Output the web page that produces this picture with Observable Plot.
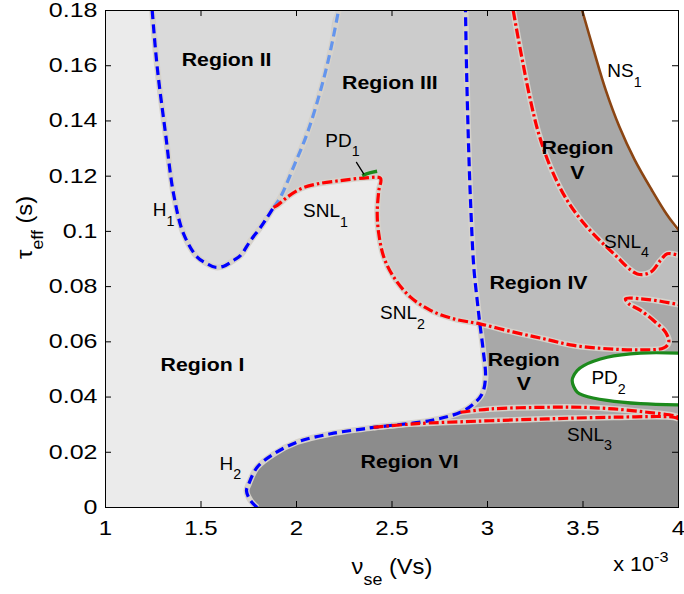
<!DOCTYPE html>
<html><head><meta charset="utf-8">
<script src="https://cdn.jsdelivr.net/npm/d3@7"></script>
<script src="https://cdn.jsdelivr.net/npm/@observablehq/plot@0.6"></script>
<style>html,body{margin:0;padding:0;background:#fff;overflow:hidden;}</style>
</head><body><div id="chart"></div>
<script>
// ---- data (x in units of 1e-3 Vs, y = tau_eff in s) ----
const xTicks = [1, 1.5, 2, 2.5, 3, 3.5, 4];
const yTicks = [0, 0.02, 0.04, 0.06, 0.08, 0.1, 0.12, 0.14, 0.16, 0.18];

const H1_left = [[1.2445,0.18],[1.2707,0.1595],[1.3141,0.1355],[1.356,0.1137],[1.4084,0.0992],[1.4801,0.0907],[1.532,0.0883],[1.5759,0.0870],[1.619,0.0874],[1.6702,0.0895],[1.707,0.0913],[1.7592,0.0967],[1.812,0.1015],[1.8466,0.1051],[1.8796,0.1087]];
const H1_right = [[1.8796,0.1087],[1.9162,0.1124],[1.9843,0.1233],[2.056,0.1355],[2.1257,0.151],[2.178,0.1655],[2.2199,0.18]];
const H2_a = [[1.7942,0],[1.7592,0.0025],[1.7382,0.006],[1.7503,0.0086],[1.7942,0.0146],[1.8812,0.0194],[2.0037,0.0237],[2.178,0.0267],[2.3524,0.0285],[2.4031,0.029]];
const H2_b = [[2.4031,0.029],[2.4921,0.0297],[2.7016,0.0315],[2.8586,0.0345]];
const H2_c = [[2.8586,0.0345],[2.9283,0.0376],[2.9723,0.0412],[2.9895,0.0472],[2.9775,0.0569],[2.96,0.0665]];
const H2_d = [[2.96,0.0665],[2.9461,0.075],[2.9283,0.087],[2.911,0.1112],[2.899,0.1353],[2.8901,0.1595],[2.8848,0.18]];
const SNL1 = [[1.8796,0.1087],[1.899,0.1094],[1.9513,0.1124],[2.0209,0.1154],[2.1084,0.1172],[2.2304,0.1184],[2.3524,0.1193],[2.4398,0.1192]];
const SNL2a = [[2.4398,0.1192],[2.4309,0.1148],[2.4225,0.1064],[2.4309,0.0991],[2.4571,0.0907],[2.5094,0.0834],[2.5969,0.0762],[2.7016,0.0714],[2.8236,0.0683],[2.96,0.0665]];
const SNL2b = [[2.96,0.0665],[3.1377,0.0635],[3.2948,0.0611],[3.4518,0.0587],[3.6267,0.0575],[3.801,0.0571],[3.923,0.0578],[3.9492,0.0599],[3.9319,0.0635],[3.8796,0.0671],[3.801,0.0714],[3.7398,0.0738],[3.7225,0.0756],[3.801,0.0756],[3.9058,0.0747],[4,0.0735]];
const SNL3_upper = [[2.8586,0.0345],[3.0157,0.0357],[3.3126,0.0363],[3.4869,0.0363],[3.6613,0.0357],[3.8361,0.0345],[3.9754,0.0333],[4,0.0327]];
const SNL3_lower = [[2.4031,0.029],[2.6141,0.0303],[2.9634,0.0313],[3.3126,0.0321],[3.6613,0.0327],[3.9754,0.0327],[4,0.0321]];
const SNL4 = [[3.1346,0.18],[3.1728,0.1655],[3.2251,0.1474],[3.2686,0.1353],[3.3298,0.1233],[3.4173,0.1112],[3.522,0.1015],[3.6613,0.0919],[3.7838,0.0846],[3.8534,0.0852],[3.9058,0.0895],[3.9408,0.0919],[4,0.0913]];
const NS1 = [[3.4958,0.18],[3.5565,0.1655],[3.62,0.151],[3.69,0.138],[3.77,0.126],[3.86,0.115],[3.94,0.106],[4,0.1005]];
const PD1 = [[2.344,0.1202],[2.383,0.1212],[2.422,0.1218]];
const PD1_leader = [[2.314,0.125],[2.352,0.1208]];
const PD2 = [[4,0.0559],[3.801,0.0559],[3.6267,0.0544],[3.5042,0.0514],[3.4696,0.0496],[3.4434,0.046],[3.4696,0.0418],[3.5042,0.0406],[3.6267,0.0388],[3.801,0.0376],[4,0.0372]];

const regionLabels = [
  {x: 1.634, y: 0.1626, t: "Region II"},
  {x: 2.489, y: 0.1543, t: "Region III"},
  {x: 1.508, y: 0.0522, t: "Region I"},
  {x: 3.267, y: 0.0819, t: "Region IV"},
  {x: 3.19,  y: 0.0498, t: "Region\nV"},
  {x: 3.471, y: 0.1264, t: "Region\nV"},
  {x: 2.592, y: 0.0170, t: "Region VI"}
];
const curveLabels = [
  {x: 1.304, y: 0.1076, t: "H_{1}"},
  {x: 1.654, y: 0.0158, t: "H_{2}"},
  {x: 2.152, y: 0.1074, t: "SNL_{1}"},
  {x: 2.555, y: 0.0704, t: "SNL_{2}"},
  {x: 3.534, y: 0.0264, t: "SNL_{3}"},
  {x: 3.728, y: 0.0962, t: "SNL_{4}"},
  {x: 3.717, y: 0.1581, t: "NS_{1}"},
  {x: 2.241, y: 0.1329, t: "PD_{1}"},
  {x: 3.634, y: 0.0469, t: "PD_{2}"}
];
const xTitle = "ν_{se} (Vs)";
const xExp = "x 10^{-3}";
const yTitle = "τ_{eff} (s)";

// ---- layout & style ----
const W = 684, H = 594, mL = 105, mR = 6, mT = 10, mB = 87;
const FW = W - mL - mR, FH = H - mT - mB;
const C = {I: "#ebebeb", II: "#dadada", III: "#cccccc", IV: "#bebebe", V: "#a8a8a8", VI: "#8c8c8c"};
const rev = a => a.slice().reverse();
const xMax = xTicks[xTicks.length - 1], yMin = yTicks[0], yMax = yTicks[yTicks.length - 1];

const polyII = [...H1_left, ...H1_right.slice(1)];
const polyIII = [...H1_right, ...rev(H2_d), ...rev(SNL2a).slice(1), ...rev(SNL1).slice(1)];
const polyIV = [...rev(H2_d), ...SNL2b.slice(1), [xMax, yMax]];
const polyVup = [...SNL4, [xMax, yMax]];
const polyNS = [...NS1, [xMax, yMax]];
const polyVlow = [...rev(H2_c), ...rev(H2_b).slice(1), ...SNL3_lower.slice(1), ...rev(SNL2b)];
const polyVI = [...H2_a, ...SNL3_lower.slice(1), [xMax, yMin]];
const Hline = [...H2_a, ...H2_b.slice(1), ...H2_c.slice(1), ...H2_d.slice(1)];
const SNL12 = [...SNL1, ...SNL2a.slice(1), ...SNL2b.slice(1)];

const curve = "catmull-rom";
const fillPoly = (d, c) => Plot.line(d, {fill: c, stroke: c, strokeWidth: 0.6, curve, clip: true});
const under = d => Plot.line(d, {stroke: "#d6d2cb", strokeWidth: 6, curve, clip: true, strokeLinecap: "butt"});
const dash = (d, c) => Plot.line(d, {stroke: c, strokeWidth: 3.2, strokeDasharray: "9,5", curve, clip: true, strokeLinecap: "butt"});
const dashdot = d => Plot.line(d, {stroke: "#ff0000", strokeWidth: 3.2, strokeDasharray: "10,3,2.5,3", curve, clip: true, strokeLinecap: "butt"});

const allCurves = [H1_left, H1_right, Hline, SNL12, SNL3_upper, SNL3_lower, SNL4];

const svg = Plot.plot({
  width: W, height: H, marginLeft: mL, marginRight: mR, marginTop: mT, marginBottom: mB,
  x: {domain: [xTicks[0], xMax]},
  y: {domain: [yMin, yMax]},
  style: {fontFamily: "'Liberation Sans', Arial, Helvetica, sans-serif", fontSize: "20px", color: "black", background: "white"},
  marks: [
    Plot.frame({fill: C.I, stroke: null}),
    fillPoly(polyII, C.II),
    fillPoly(polyIII, C.III),
    fillPoly(polyIV, C.IV),
    fillPoly(polyVup, C.V),
    fillPoly(polyNS, "white"),
    fillPoly(polyVlow, C.V),
    fillPoly(polyVI, C.VI),
    fillPoly(PD2, "white"),
    ...allCurves.map(under),
    Plot.line(NS1, {stroke: "#8b4513", strokeWidth: 2.6, curve, clip: true}),
    dash(H1_left, "#0000ff"),
    dash(H1_right, "#6495ed"),
    dash(Hline, "#0000ff"),
    dashdot(SNL12),
    dashdot(SNL3_upper),
    dashdot(SNL3_lower),
    dashdot(SNL4),
    Plot.line(PD2, {stroke: "#1c8a1c", strokeWidth: 3.2, curve, clip: true}),
    Plot.line(PD1, {stroke: "#1c8a1c", strokeWidth: 3.5, curve, clip: true, strokeLinecap: "butt"}),
    Plot.line(PD1_leader, {stroke: "black", strokeWidth: 1.3}),
    Plot.text(regionLabels, {x: "x", y: "y", text: "t", fontWeight: "bold", fontSize: 19, lineHeight: 1.3}),
    Plot.text(curveLabels, {x: "x", y: "y", text: "t", fontSize: 19}),
    Plot.frame({stroke: "black", strokeWidth: 1}),
    Plot.tickX(xTicks, {x: d => d, insetTop: FH - 6, stroke: "black"}),
    Plot.tickX(xTicks, {x: d => d, insetBottom: FH - 6, stroke: "black"}),
    Plot.tickY(yTicks, {y: d => d, insetRight: FW - 6, stroke: "black"}),
    Plot.tickY(yTicks, {y: d => d, insetLeft: FW - 6, stroke: "black"}),
    Plot.axisX({ticks: xTicks, tickSize: 0, tickPadding: 13, tickFormat: d => String(d), fontSize: 20, label: null}),
    Plot.axisY({ticks: yTicks, tickSize: 0, tickPadding: 8, tickFormat: d => String(Math.round(d * 100) / 100), fontSize: 20, label: null}),
    Plot.text([xTitle], {frameAnchor: "bottom", dy: 66, fontSize: 22}),
    Plot.text([xExp], {frameAnchor: "bottom-right", textAnchor: "end", dx: -10, dy: 63, fontSize: 20}),
    Plot.text([yTitle], {frameAnchor: "left", dx: -81, rotate: -90, fontSize: 22})
  ]
});
document.getElementById("chart").append(svg);

// ---- rich text (sub/superscripts) and horizontal text proportions ----
const NS = "http://www.w3.org/2000/svg";
function richify(el) {
  const s = el.textContent;
  if (!/[_^]\{/.test(s)) return;
  while (el.firstChild) el.removeChild(el.firstChild);
  const re = /([_^])\{([^}]*)\}/g;
  const parts = [];
  let last = 0, m;
  while ((m = re.exec(s))) {
    if (m.index > last) parts.push({t: s.slice(last, m.index), k: ""});
    parts.push({t: m[2], k: m[1]});
    last = re.lastIndex;
  }
  if (last < s.length) parts.push({t: s.slice(last), k: ""});
  let cur = 0;
  for (const p of parts) {
    const ts = document.createElementNS(NS, "tspan");
    const target = p.k === "_" ? 0.5 : p.k === "^" ? -0.45 : 0;
    const fs = p.k ? 0.75 : 1;
    const d = target - cur;
    if (d) ts.setAttribute("dy", (d / fs).toFixed(3) + "em");
    if (p.k) ts.setAttribute("font-size", "75%");
    ts.textContent = p.t;
    el.appendChild(ts);
    cur = target;
  }
}
const regionSet = new Set(regionLabels.map(d => d.t.replace(/\n/g, "")));
const curveSet = new Set(curveLabels.map(d => d.t));
const titleSet = new Set([xTitle, xExp, yTitle]);
function stretchFor(el) {
  const g = el.closest("g[aria-label]");
  const lab = g ? g.getAttribute("aria-label") : "";
  if (lab === "x-axis tick label") return 1.2;
  if (lab === "y-axis tick label") return 1.25;
  const s = el.textContent;
  if (regionSet.has(s)) return 1.12;
  if (curveSet.has(s)) return 1.0;
  if (titleSet.has(s)) return 1.08;
  return 1;
}
d3.select(svg).selectAll("text").each(function () {
  const s = stretchFor(this);
  richify(this);
  if (s === 1) return;
  let t = this.getAttribute("transform") || "";
  const x = this.getAttribute("x");
  if (x !== null && parseFloat(x)) { t += ` translate(${x},0)`; this.removeAttribute("x"); }
  this.setAttribute("transform", (t + ` scale(${s},1)`).trim());
});
</script>
</body></html>
